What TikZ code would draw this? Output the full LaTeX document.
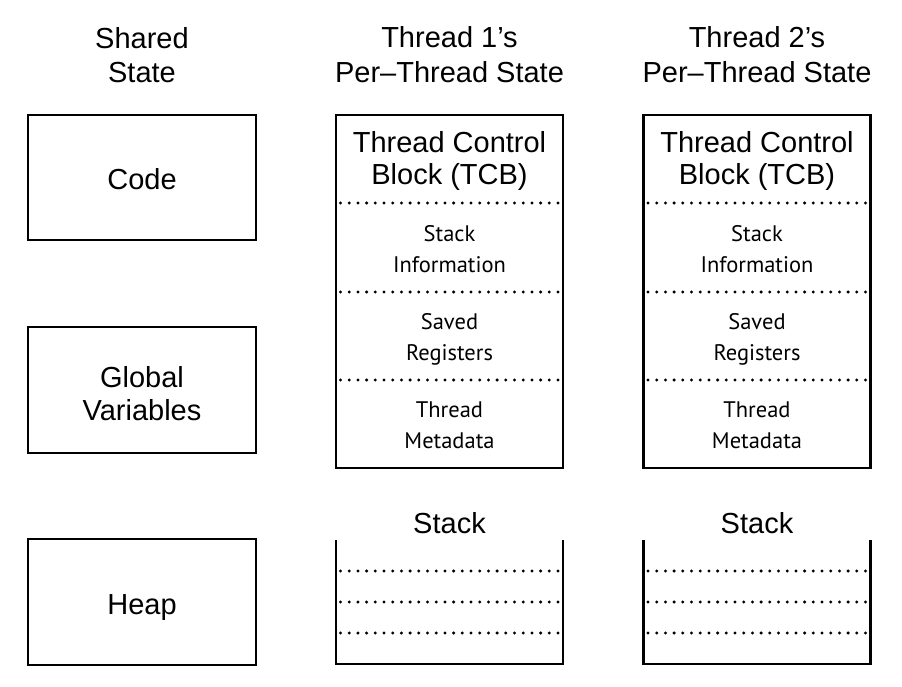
\documentclass[tikz,border=0pt]{standalone}
\usepackage{fontspec}
\setmainfont{Liberation Sans}
\newfontfamily\innerfont{PT Sans}
\begin{document}
\begin{tikzpicture}[x=1pt,y=-1pt,
  box/.style={draw=black,line width=2.6pt,rectangle,inner sep=0pt},
  big/.style={font=\fontsize{29}{33}\selectfont,anchor=base,inner sep=0pt},
  small/.style={font=\innerfont\fontsize{22.5}{31}\selectfont,anchor=base,inner sep=0pt},
  divider/.style={line width=3.3pt,line cap=round,dash pattern=on 0pt off 8.7pt},
  wall/.style={line width=2.6pt}]
\useasboundingbox (0,0) rectangle (902,687);
% headers
\node[big] (h0a) at (142,49) {Shared};
\node[big] (h0b) at (142,83) {State};
\node[big] (h1a) at (449.5,48) {Thread 1’s};
\node[big] (h1b) at (449.5,83) {Per–Thread State};
\node[big] (h2a) at (757,48) {Thread 2’s};
\node[big] (h2b) at (757,83) {Per–Thread State};
% shared boxes
\node[box,minimum width=228pt,minimum height=125pt] (code) at (142,177.5) {};
\node[big] (codet) at (142,190) {Code};
\node[box,minimum width=228pt,minimum height=126pt] (glob) at (142,390) {};
\node[big] (globa) at (142,387) {Global};
\node[big] (globb) at (142,420) {Variables};
\node[box,minimum width=228pt,minimum height=126pt] (heap) at (142,602) {};
\node[big] (heapt) at (142,614) {Heap};
% thread columns
\foreach \cx/\n in {449.5/1,757/2}{
  \node[box,minimum width=227pt,minimum height=353pt] (tcb\n) at (\cx,291.5) {};
  \node[big] (tcba\n) at (\cx,153) {Thread Control};
  \node[big] (tcbb\n) at (\cx,185) {Block (TCB)};
  \draw[divider] (\cx-109,203) -- (\cx+110,203);
  \node[small] (sia\n) at (\cx,241) {Stack};
  \node[small] (sib\n) at (\cx,272) {Information};
  \draw[divider] (\cx-109,292) -- (\cx+110,292);
  \node[small] (sra\n) at (\cx,329) {Saved};
  \node[small] (srb\n) at (\cx,360) {Registers};
  \draw[divider] (\cx-109,380) -- (\cx+110,380);
  \node[small] (tma\n) at (\cx,417) {Thread};
  \node[small] (tmb\n) at (\cx,448) {Metadata};
  % stack
  \node[big] (stk\n) at (\cx,533) {Stack};
  \draw[wall] (\cx-113.5,540) -- (\cx-113.5,664) -- (\cx+113.5,664) -- (\cx+113.5,540);
  \draw[divider] (\cx-109,571) -- (\cx+110,571);
  \draw[divider] (\cx-109,602) -- (\cx+110,602);
  \draw[divider] (\cx-109,633) -- (\cx+110,633);
}
\end{tikzpicture}
\end{document}
